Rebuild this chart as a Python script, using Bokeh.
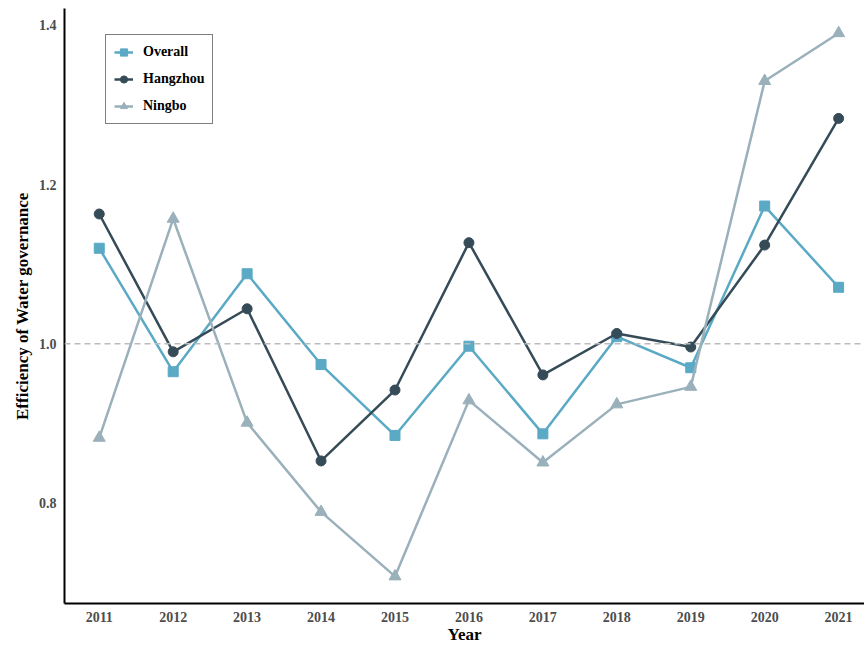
from bokeh.plotting import figure
from bokeh.models import Range1d, FixedTicker, Span, Legend, LegendItem, NumeralTickFormatter
from bokeh.embed import file_html
from bokeh.resources import INLINE

years = [2011, 2012, 2013, 2014, 2015, 2016, 2017, 2018, 2019, 2020, 2021]
overall = [1.120, 0.965, 1.088, 0.974, 0.885, 0.997, 0.887, 1.009, 0.970, 1.173, 1.071]
hangzhou = [1.163, 0.990, 1.044, 0.853, 0.942, 1.127, 0.961, 1.013, 0.996, 1.124, 1.283]
ningbo = [0.882, 1.157, 0.901, 0.789, 0.708, 0.929, 0.851, 0.924, 0.946, 1.330, 1.390]
y_ticks = [0.8, 1.0, 1.2, 1.4]

FONT = "Liberation Serif"

p = figure(width=864, height=646, output_backend="svg", toolbar_location=None,
           x_range=Range1d(2010.53, 2021.35), y_range=Range1d(0.674, 1.421),
           min_border_left=64, min_border_right=0, min_border_top=8, min_border_bottom=42)
p.outline_line_color = None
p.xgrid.visible = False
p.ygrid.visible = False

p.add_layout(Span(location=1.0, dimension="width", line_color="#BBBBBB",
                  line_dash="6 4", line_width=1.5))

series = [("Overall", overall, "#5AA9C5", "square", 10),
          ("Hangzhou", hangzhou, "#354B57", "circle", 10),
          ("Ningbo", ningbo, "#9AB0BB", "triangle", 12)]
items = []
for name, vals, col, mk, sz in series:
    l = p.line(years, vals, line_color=col, line_width=2.5)
    s = p.scatter(years, vals, marker=mk, size=sz, fill_color=col, line_color=col)
    items.append(LegendItem(label=name, renderers=[l, s]))

legend = Legend(items=items, location=(41, 479))
legend.label_text_font = FONT
legend.label_text_font_style = "bold"
legend.label_text_font_size = "14px"
legend.label_text_color = "black"
legend.border_line_color = "black"
legend.border_line_width = 1
legend.glyph_width = 19
legend.glyph_height = 18
legend.label_height = 18
legend.spacing = 9
legend.padding = 8
legend.margin = 0
legend.label_standoff = 10
p.add_layout(legend, "center")

p.xaxis.ticker = FixedTicker(ticks=years)
p.yaxis.ticker = FixedTicker(ticks=y_ticks)
p.yaxis.formatter = NumeralTickFormatter(format="0.0")
p.xaxis.axis_label = "Year"
p.yaxis.axis_label = "Efficiency of Water governance"
for ax in (p.xaxis[0], p.yaxis[0]):
    ax.axis_line_color = "black"
    ax.axis_line_width = 2
    ax.major_tick_line_color = None
    ax.minor_tick_line_color = None
    ax.major_tick_out = 0
    ax.major_tick_in = 0
    ax.minor_tick_out = 0
    ax.major_label_text_font = FONT
    ax.major_label_text_font_style = "bold"
    ax.major_label_text_font_size = "14px"
    ax.major_label_text_color = "#4D4D4D"
    ax.axis_label_text_font = FONT
    ax.axis_label_text_font_style = "bold"
    ax.axis_label_text_font_size = "17px"
    ax.axis_label_text_color = "black"
p.xaxis.major_label_standoff = 8
p.xaxis.axis_label_standoff = 0
p.yaxis.major_label_standoff = 8
p.yaxis.axis_label_standoff = 4

open("out.html", "w").write(file_html(p, INLINE))
